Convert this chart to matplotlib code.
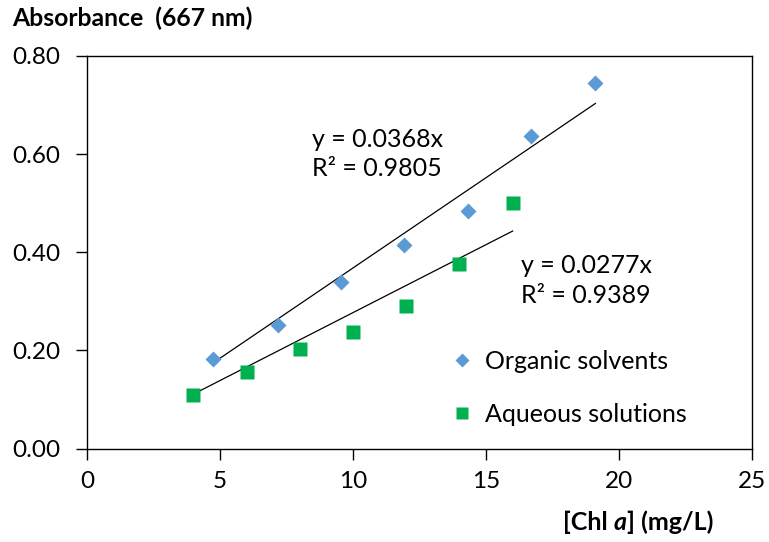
import numpy as np
import matplotlib
matplotlib.use("Agg")
import matplotlib.pyplot as plt

plt.rcParams['font.family'] = ['Lato', 'DejaVu Sans']

# calibration data, absorbance at 667 nm against chlorophyll a concentration
organic_conc = [4.74, 7.18, 9.54, 11.9, 14.32, 16.7, 19.11]
organic_abs = [0.182, 0.252, 0.339, 0.414, 0.484, 0.636, 0.744]
aqueous_conc = [4.0, 6.0, 8.0, 10.0, 12.0, 14.0, 16.0]
aqueous_abs = [0.110, 0.156, 0.203, 0.237, 0.290, 0.376, 0.500]

# linear fits forced through the origin
organic_slope, organic_r2 = 0.0368, 0.9805
aqueous_slope, aqueous_r2 = 0.0277, 0.9389

x_ticks = [0, 5, 10, 15, 20, 25]
y_ticks = [0.0, 0.2, 0.4, 0.6, 0.8]

blue = '#5B9BD5'
green = '#00B050'

fig = plt.figure(figsize=(7.69, 5.42), dpi=100)
ax = fig.add_axes([0.1131, 0.1725, 0.978 - 0.1131, 0.8967 - 0.1725])

org, = ax.plot(organic_conc, organic_abs, 'D', ms=8, color=blue, mec='none',
               label='Organic solvents', zorder=3)
aq, = ax.plot(aqueous_conc, aqueous_abs, 's', ms=9.8, color=green, mec='none',
              label='Aqueous solutions', zorder=3)

# trendlines span the measured range of each series
xo = np.array([min(organic_conc), max(organic_conc)])
ax.plot(xo, organic_slope * xo, color='black', lw=0.9, zorder=2)
xa = np.array([min(aqueous_conc), max(aqueous_conc)])
ax.plot(xa, aqueous_slope * xa, color='black', lw=0.9, zorder=2)

ax.text(8.45, 0.600, f'y = {organic_slope}x\nR² = {organic_r2}', fontsize=18,
        va='center', ha='left', linespacing=1.35)
ax.text(16.3, 0.343, f'y = {aqueous_slope}x\nR² = {aqueous_r2}', fontsize=18,
        va='center', ha='left', linespacing=1.35)

ax.set_xlim(0, 25)
ax.set_ylim(0, 0.8)
ax.set_xticks(x_ticks)
ax.set_yticks(y_ticks)
ax.set_yticklabels([f'{v:.2f}' for v in y_ticks])
ax.tick_params(direction='out', length=8, width=1, labelsize=17.5, pad=8,
               top=False, right=False)
ax.tick_params(axis='y', pad=11)
for s in ax.spines.values():
    s.set_linewidth(1)
    s.set_color('black')

ax.legend(handles=[org, aq], loc='center left', bbox_to_anchor=(0.515, 0.155),
          frameon=False, fontsize=18, markerscale=0.9, labelspacing=1.2,
          handlelength=0.8, handletextpad=0.5)

fig.text(12 / 769, 1 - 18 / 542, 'Absorbance  (667 nm)', fontsize=17.8,
         fontweight='bold', va='center', ha='left')

# x axis title: bold, with an italic "a"
t1 = fig.text(563 / 769, 1 - 522 / 542, '[Chl ', fontsize=18, fontweight='bold',
              va='center', ha='left')
t2 = ax.annotate('a', xy=(1, 0), xycoords=t1, fontsize=18, fontweight='bold',
                 fontstyle='italic', va='bottom', ha='left')
ax.annotate('] (mg/L)', xy=(1, 0), xycoords=t2, fontsize=18, fontweight='bold',
            va='bottom', ha='left')

fig.savefig('out.png', dpi=100)
